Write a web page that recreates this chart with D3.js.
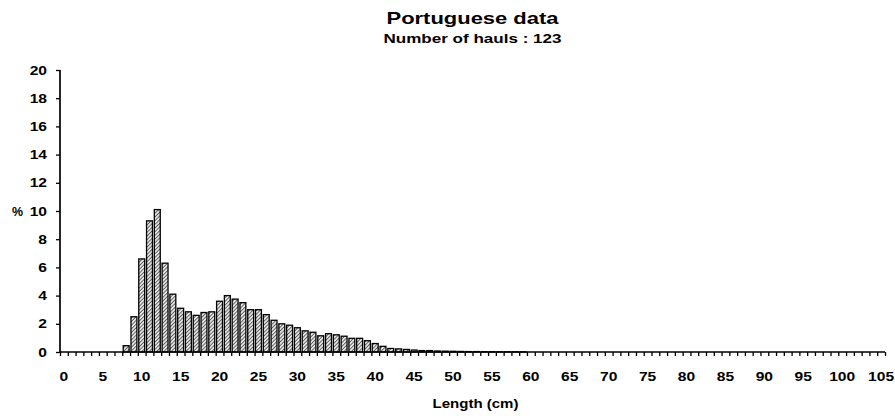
<!DOCTYPE html>
<html>
<head>
<meta charset="utf-8">
<script src="https://cdn.jsdelivr.net/npm/d3@7"></script>
<style>
  html, body { margin: 0; padding: 0; background: #fff; }
  svg { display: block; }
  text { font-family: "Liberation Sans", Arial, Helvetica, sans-serif; fill: #000; }
</style>
</head>
<body>
<svg id="chart" width="895" height="418"></svg>
<script>
// Length classes (cm) and share of catch (%)
const lengths = d3.range(0, 106);
const percents = [
  0, 0, 0, 0, 0, 0, 0, 0, 0.45, 2.5,
  6.6, 9.3, 10.1, 6.3, 4.1, 3.1, 2.85, 2.6, 2.8, 2.85,
  3.6, 4.0, 3.75, 3.5, 3.0, 3.0, 2.65, 2.25, 2.0, 1.9,
  1.72, 1.5, 1.4, 1.15, 1.3, 1.22, 1.12, 0.97, 0.97, 0.8,
  0.6, 0.4, 0.25, 0.22, 0.18, 0.14, 0.1, 0.1, 0.07, 0.06,
  0.05, 0.04, 0.03, 0.03, 0.02, 0.02, 0.01, 0.01, 0.01, 0.01,
  0, 0, 0, 0, 0, 0, 0, 0, 0, 0,
  0, 0, 0, 0, 0, 0, 0, 0, 0, 0,
  0, 0, 0, 0, 0, 0, 0, 0, 0, 0,
  0, 0, 0, 0, 0, 0, 0, 0, 0, 0,
  0, 0, 0, 0, 0, 0
];
const yTicks = [0, 2, 4, 6, 8, 10, 12, 14, 16, 18, 20];
const xLabelValues = d3.range(0, 106, 5);

const title = "Portuguese data";
const subtitle = "Number of hauls : 123";
const xTitle = "Length (cm)";
const yTitle = "%";

const svg = d3.select("#chart");
const plotLeft = 60, plotRight = 885, plotTop = 70, plotBottom = 352;

const x = d3.scaleBand().domain(lengths).range([plotLeft, plotRight]).paddingInner(0.24).paddingOuter(0.12);
const xEdge = d3.scaleLinear().domain([0, lengths.length]).range([plotLeft, plotRight]);
const y = d3.scaleLinear().domain([0, 20]).range([plotBottom, plotTop]);

// hatched fill for the bars
const defs = svg.append("defs");
const pat = defs.append("pattern")
  .attr("id", "hatch").attr("patternUnits", "userSpaceOnUse")
  .attr("width", 2.6).attr("height", 2.6)
  .attr("patternTransform", "rotate(45)");
pat.append("rect").attr("width", 2.6).attr("height", 2.6).attr("fill", "#e6e6e6");
pat.append("line").attr("x1", 0).attr("y1", 0).attr("x2", 0).attr("y2", 2.6)
  .attr("stroke", "#222").attr("stroke-width", 1.3);

// bars
svg.append("g").selectAll("rect")
  .data(lengths.map((l, i) => ({ l, v: percents[i] })).filter(d => d.v > 0))
  .join("rect")
  .attr("x", d => x(d.l))
  .attr("y", d => y(d.v))
  .attr("width", x.bandwidth())
  .attr("height", d => y(0) - y(d.v))
  .attr("fill", "url(#hatch)")
  .attr("stroke", "#000")
  .attr("stroke-width", 1.3);

const labelFont = "Liberation Sans, Arial, sans-serif";
const stretch = 1.2;   // wide lettering of the labels

// y axis
const yAxis = svg.append("g")
  .attr("transform", `translate(${plotLeft},0)`)
  .call(d3.axisLeft(y).tickValues(yTicks).tickSize(4).tickPadding(9));
yAxis.select(".domain").attr("stroke", "#000").attr("stroke-width", 1.7).attr("d", `M0,${plotTop}V${plotBottom}`);
yAxis.selectAll(".tick line").attr("stroke", "#000").attr("stroke-width", 1.3);
yAxis.selectAll(".tick text")
  .attr("font-size", 13).attr("font-weight", "bold").attr("font-family", labelFont)
  .attr("x", -13 / stretch)
  .attr("transform", `scale(${stretch},1)`);

// x axis: small ticks at class boundaries
const xTicksG = svg.append("g")
  .attr("transform", `translate(0,${plotBottom})`)
  .call(d3.axisBottom(xEdge).tickValues(d3.range(0, lengths.length + 1)).tickSize(4).tickFormat(""));
xTicksG.select(".domain").attr("stroke", "#000").attr("stroke-width", 1.7).attr("d", `M${plotLeft},0H${plotRight}`);
xTicksG.selectAll(".tick line").attr("stroke", "#000").attr("stroke-width", 1.3);

// x axis labels centred on each 5 cm class
const xLab = svg.append("g")
  .attr("transform", `translate(0,${plotBottom})`)
  .call(d3.axisBottom(x).tickValues(xLabelValues).tickSize(0).tickPadding(20));
xLab.select(".domain").remove();
xLab.selectAll(".tick text")
  .attr("font-size", 13).attr("font-weight", "bold").attr("font-family", labelFont)
  .attr("transform", `scale(${stretch},1)`);

// titles
const cx = (plotLeft + plotRight) / 2;
svg.append("text").attr("x", cx).attr("y", 24).attr("text-anchor", "middle")
  .attr("font-size", 17).attr("font-weight", "bold")
  .attr("textLength", 172).attr("lengthAdjust", "spacingAndGlyphs").text(title);
svg.append("text").attr("x", cx).attr("y", 43).attr("text-anchor", "middle")
  .attr("font-size", 13).attr("font-weight", "bold")
  .attr("textLength", 178).attr("lengthAdjust", "spacingAndGlyphs").text(subtitle);
svg.append("text").attr("x", cx + 3).attr("y", 408).attr("text-anchor", "middle")
  .attr("font-size", 13.5).attr("font-weight", "bold")
  .attr("textLength", 86).attr("lengthAdjust", "spacingAndGlyphs").text(xTitle);
svg.append("text").attr("x", 12).attr("y", y(10) + 4.5).attr("text-anchor", "start")
  .attr("font-size", 13).attr("font-weight", "bold")
  .attr("textLength", 11).attr("lengthAdjust", "spacingAndGlyphs").text(yTitle);
</script>
</body>
</html>
